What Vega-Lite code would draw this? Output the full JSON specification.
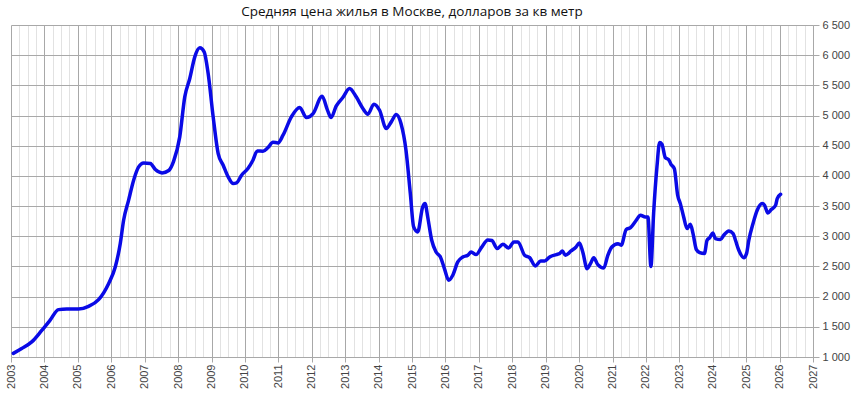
{
  "$schema": "https://vega.github.io/schema/vega-lite/v6.json",
  "autosize": "none",
  "width": 802,
  "height": 332,
  "padding": {"left": 11, "top": 25, "right": 43, "bottom": 36},
  "background": "white",
  "config": {"view": {"stroke": null}},
  "title": {"text": "Средняя цена жилья в Москве, долларов за кв метр", "font": "Open Sans", "fontSize": 13.5, "fontWeight": "normal", "color": "#111", "anchor": "middle", "offset": 1},
  "data": {"values": [
    {"year": 2003.07, "price": 1060}, {"year": 2003.32, "price": 1140}, {"year": 2003.62, "price": 1250}, {"year": 2003.92, "price": 1440},
    {"year": 2004.17, "price": 1610}, {"year": 2004.42, "price": 1785}, {"year": 2004.67, "price": 1795}, {"year": 2005.02, "price": 1795},
    {"year": 2005.32, "price": 1840}, {"year": 2005.62, "price": 1950}, {"year": 2005.92, "price": 2215}, {"year": 2006.12, "price": 2490},
    {"year": 2006.27, "price": 2880}, {"year": 2006.37, "price": 3265}, {"year": 2006.52, "price": 3600}, {"year": 2006.67, "price": 3930},
    {"year": 2006.82, "price": 4150}, {"year": 2006.97, "price": 4215}, {"year": 2007.17, "price": 4205}, {"year": 2007.32, "price": 4105},
    {"year": 2007.52, "price": 4050}, {"year": 2007.72, "price": 4090}, {"year": 2007.87, "price": 4250}, {"year": 2008.05, "price": 4647},
    {"year": 2008.20, "price": 5310}, {"year": 2008.35, "price": 5613}, {"year": 2008.50, "price": 5972}, {"year": 2008.65, "price": 6122},
    {"year": 2008.78, "price": 6056}, {"year": 2008.90, "price": 5696}, {"year": 2009.05, "price": 4978}, {"year": 2009.20, "price": 4370},
    {"year": 2009.35, "price": 4177}, {"year": 2009.50, "price": 3983}, {"year": 2009.65, "price": 3873}, {"year": 2009.75, "price": 3884},
    {"year": 2009.90, "price": 4011}, {"year": 2010.09, "price": 4122}, {"year": 2010.24, "price": 4260}, {"year": 2010.37, "price": 4414},
    {"year": 2010.54, "price": 4409}, {"year": 2010.69, "price": 4470}, {"year": 2010.84, "price": 4558}, {"year": 2010.99, "price": 4547},
    {"year": 2011.14, "price": 4674}, {"year": 2011.39, "price": 4978}, {"year": 2011.64, "price": 5133}, {"year": 2011.84, "price": 4967},
    {"year": 2012.04, "price": 5033}, {"year": 2012.31, "price": 5320}, {"year": 2012.47, "price": 5090}, {"year": 2012.58, "price": 4967},
    {"year": 2012.73, "price": 5155}, {"year": 2012.93, "price": 5298}, {"year": 2013.13, "price": 5448}, {"year": 2013.33, "price": 5310},
    {"year": 2013.53, "price": 5116}, {"year": 2013.68, "price": 5022}, {"year": 2013.86, "price": 5188}, {"year": 2014.03, "price": 5088},
    {"year": 2014.23, "price": 4785}, {"year": 2014.38, "price": 4895}, {"year": 2014.53, "price": 5017}, {"year": 2014.67, "price": 4867},
    {"year": 2014.82, "price": 4425}, {"year": 2014.95, "price": 3707}, {"year": 2015.05, "price": 3155}, {"year": 2015.17, "price": 3072},
    {"year": 2015.32, "price": 3486}, {"year": 2015.39, "price": 3541}, {"year": 2015.47, "price": 3320}, {"year": 2015.59, "price": 2934},
    {"year": 2015.72, "price": 2740}, {"year": 2015.85, "price": 2657}, {"year": 2015.97, "price": 2464}, {"year": 2016.10, "price": 2271},
    {"year": 2016.22, "price": 2354}, {"year": 2016.37, "price": 2575}, {"year": 2016.52, "price": 2657}, {"year": 2016.67, "price": 2685},
    {"year": 2016.77, "price": 2740}, {"year": 2016.92, "price": 2696}, {"year": 2017.07, "price": 2807}, {"year": 2017.27, "price": 2940},
    {"year": 2017.39, "price": 2930}, {"year": 2017.55, "price": 2796}, {"year": 2017.72, "price": 2867}, {"year": 2017.89, "price": 2807},
    {"year": 2018.05, "price": 2906}, {"year": 2018.17, "price": 2906}, {"year": 2018.37, "price": 2685}, {"year": 2018.52, "price": 2646},
    {"year": 2018.69, "price": 2508}, {"year": 2018.85, "price": 2591}, {"year": 2018.97, "price": 2591}, {"year": 2019.12, "price": 2657},
    {"year": 2019.32, "price": 2696}, {"year": 2019.42, "price": 2713}, {"year": 2019.50, "price": 2757}, {"year": 2019.59, "price": 2685},
    {"year": 2019.76, "price": 2757}, {"year": 2019.91, "price": 2823}, {"year": 2020.01, "price": 2890}, {"year": 2020.11, "price": 2740},
    {"year": 2020.24, "price": 2464}, {"year": 2020.34, "price": 2547}, {"year": 2020.44, "price": 2646}, {"year": 2020.56, "price": 2530},
    {"year": 2020.74, "price": 2475}, {"year": 2020.86, "price": 2685}, {"year": 2020.98, "price": 2823}, {"year": 2021.16, "price": 2878},
    {"year": 2021.26, "price": 2851}, {"year": 2021.41, "price": 3111}, {"year": 2021.54, "price": 3144}, {"year": 2021.69, "price": 3249},
    {"year": 2021.84, "price": 3348}, {"year": 2021.98, "price": 3320}, {"year": 2022.06, "price": 3320}, {"year": 2022.15, "price": 2500},
    {"year": 2022.23, "price": 3376}, {"year": 2022.33, "price": 4149}, {"year": 2022.41, "price": 4552}, {"year": 2022.48, "price": 4525},
    {"year": 2022.58, "price": 4304}, {"year": 2022.68, "price": 4271}, {"year": 2022.75, "price": 4193}, {"year": 2022.85, "price": 4122},
    {"year": 2022.95, "price": 3680}, {"year": 2023.03, "price": 3541}, {"year": 2023.13, "price": 3320}, {"year": 2023.23, "price": 3127},
    {"year": 2023.33, "price": 3199}, {"year": 2023.41, "price": 3044}, {"year": 2023.51, "price": 2779}, {"year": 2023.61, "price": 2729},
    {"year": 2023.75, "price": 2713}, {"year": 2023.83, "price": 2934}, {"year": 2023.91, "price": 2978}, {"year": 2024.00, "price": 3055},
    {"year": 2024.08, "price": 2961}, {"year": 2024.23, "price": 2945}, {"year": 2024.33, "price": 3017}, {"year": 2024.48, "price": 3088},
    {"year": 2024.61, "price": 3044}, {"year": 2024.68, "price": 2934}, {"year": 2024.78, "price": 2768}, {"year": 2024.93, "price": 2646},
    {"year": 2025.01, "price": 2713}, {"year": 2025.08, "price": 2934}, {"year": 2025.21, "price": 3221}, {"year": 2025.33, "price": 3431},
    {"year": 2025.48, "price": 3541}, {"year": 2025.55, "price": 3514}, {"year": 2025.65, "price": 3387}, {"year": 2025.75, "price": 3442},
    {"year": 2025.88, "price": 3514}, {"year": 2025.93, "price": 3624}, {"year": 2026.03, "price": 3696}
  ]},
  "mark": {"type": "line", "color": "#0a0ae6", "strokeWidth": 3.5, "interpolate": "monotone", "strokeCap": "round", "strokeJoin": "round"},
  "encoding": {
    "x": {
      "field": "year", "type": "quantitative",
      "scale": {"domain": [2003, 2027], "nice": false, "zero": false},
      "axis": {
        "title": null,
        "values": [2003,2003.25,2003.5,2003.75,2004,2004.25,2004.5,2004.75,2005,2005.25,2005.5,2005.75,2006,2006.25,2006.5,2006.75,2007,2007.25,2007.5,2007.75,2008,2008.25,2008.5,2008.75,2009,2009.25,2009.5,2009.75,2010,2010.25,2010.5,2010.75,2011,2011.25,2011.5,2011.75,2012,2012.25,2012.5,2012.75,2013,2013.25,2013.5,2013.75,2014,2014.25,2014.5,2014.75,2015,2015.25,2015.5,2015.75,2016,2016.25,2016.5,2016.75,2017,2017.25,2017.5,2017.75,2018,2018.25,2018.5,2018.75,2019,2019.25,2019.5,2019.75,2020,2020.25,2020.5,2020.75,2021,2021.25,2021.5,2021.75,2022,2022.25,2022.5,2022.75,2023,2023.25,2023.5,2023.75,2024,2024.25,2024.5,2024.75,2025,2025.25,2025.5,2025.75,2026,2026.25,2026.5,2026.75,2027],
        "labelExpr": "datum.value % 1 === 0 ? format(datum.value, 'd') : ''",
        "labelOverlap": false,
        "labelBound": false,
        "labelAngle": -90,
        "labelFont": "Liberation Sans",
        "labelFontSize": 11,
        "labelColor": "#444",
        "labelPadding": 2,
        "grid": true,
        "gridColor": {"condition": {"test": "datum.value % 1 === 0", "value": "#a8a8a8"}, "value": "#e2e2e2"},
        "gridWidth": 1,
        "tickColor": {"condition": {"test": "datum.value % 1 === 0", "value": "#a8a8a8"}, "value": "transparent"},
        "tickSize": 5,
        "domainColor": "#a8a8a8"
      }
    },
    "y": {
      "field": "price", "type": "quantitative",
      "scale": {"domain": [1000, 6500], "nice": false, "zero": false},
      "axis": {
        "title": null,
        "orient": "right",
        "values": [1000,1500,2000,2500,3000,3500,4000,4500,5000,5500,6000,6500],
        "labelExpr": "replace(format(datum.value, ','), ',', ' ')",
        "labelFont": "Liberation Sans",
        "labelFontSize": 11,
        "labelColor": "#444",
        "labelPadding": 3,
        "labelBound": false,
        "labelOverlap": false,
        "grid": true,
        "gridColor": "#a8a8a8",
        "tickColor": "#a8a8a8",
        "tickSize": 6,
        "domainColor": "#a8a8a8"
      }
    }
  }
}
